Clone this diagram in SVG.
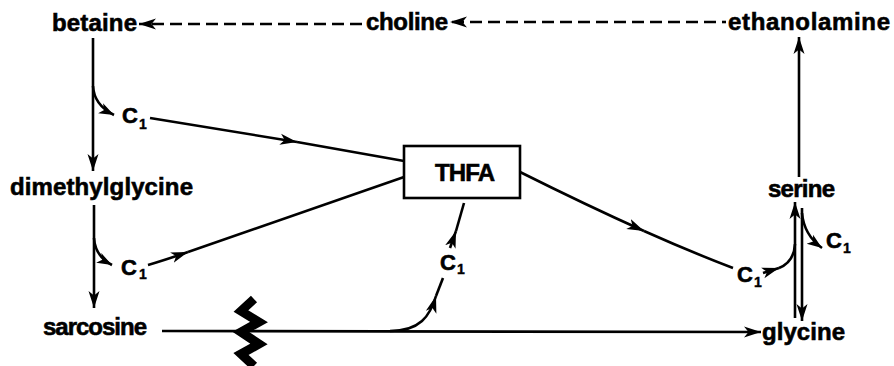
<svg xmlns="http://www.w3.org/2000/svg" width="894" height="366" viewBox="0 0 894 366">
<style>
.lbl{font-family:"Liberation Sans",Arial,sans-serif;font-weight:bold;font-size:24px;fill:#000;stroke:#000;stroke-width:0.6}
.c{font-family:"Liberation Sans",Arial,sans-serif;font-weight:bold;font-size:22px;fill:#000;stroke:#000;stroke-width:0.6}
.s{font-family:"Liberation Sans",Arial,sans-serif;font-weight:bold;font-size:14px;fill:#000;stroke:#000;stroke-width:0.4}
.ln{fill:none;stroke:#000;stroke-width:2.6}
.ar{marker-end:url(#ah)}
.hk{marker-end:url(#hk)}
.dash{stroke-dasharray:12 6}
</style>
<defs>
<marker id="ah" markerUnits="userSpaceOnUse" markerWidth="20" markerHeight="14" viewBox="-17 -7 20 14" refX="0" refY="0" orient="auto">
<path d="M0,0 L-17,-5.5 L-12.5,0 L-17,5.5 Z" fill="#000"/>
</marker>
<marker id="hk" markerUnits="userSpaceOnUse" markerWidth="18" markerHeight="14" viewBox="-15 -7 18 14" refX="0" refY="0" orient="auto">
<path d="M0,0 L-15,-5.5 L-11,0 L-15,5.5 Z" fill="#000"/>
</marker>
</defs>
<rect width="894" height="366" fill="#fff"/>

<g id="connectors">
<path class="ln" d="M726,22 L722,22"/>
<path class="ln dash ar" d="M716,22 L450,22"/>
<path class="ln dash ar" d="M362,24 L139,24"/>
<path class="ln ar" d="M93,38 L93,171"/>
<path class="ln hk" d="M93,86 Q94,105 114,115"/>
<path class="ln ar" d="M150,118 L297,142"/>
<path class="ln" d="M297,142 L404,161"/>
<path class="ln ar" d="M94,205 L94,308"/>
<path class="ln hk" d="M94,238 Q95,256 112,265"/>
<path class="ln ar" d="M148,265 Q165,260 188,252"/>
<path class="ln" d="M188,252 L404,177"/>
<path class="ln ar" d="M520,172 Q586,205 644,231"/>
<path class="ln" d="M644,231 Q691,252 733,268"/>
<path class="ln ar" d="M763,273 L779,268"/>
<path class="ln" d="M779,268 Q794,262 795,244"/>
<path class="ln ar" d="M795,318 L795,202"/>
<path class="ln ar" d="M802,208 L802,321"/>
<path class="ln hk" d="M802,213 Q804,235 822,248"/>
<path class="ln ar" d="M799,177 L799,37"/>
<path class="ln ar" d="M162,331 L761,332"/>
<path class="ln ar" d="M390,331 C420,331 430,316 436,296"/>
<path class="ln" d="M436,296 L443,278"/>
<path class="ln ar" d="M450,248 L456,231"/>
<path class="ln" d="M456,231 L464,203"/>
<polyline points="254,299 241,311 259,322 241,332 259,344 241,354 254,366" fill="none" stroke="#000" stroke-width="9" stroke-linejoin="miter"/>
</g>

<g id="betaine"><text class="lbl" x="52" y="31" textLength="85">betaine</text></g>
<g id="choline"><text class="lbl" x="366" y="30" textLength="82">choline</text></g>
<g id="ethanolamine"><text class="lbl" x="728" y="30" textLength="162">ethanolamine</text></g>
<g id="dimethylglycine"><text class="lbl" x="10" y="195" textLength="183">dimethylglycine</text></g>
<g id="sarcosine"><text class="lbl" x="43" y="335" textLength="104">sarcosine</text></g>
<g id="serine"><text class="lbl" x="768" y="197" textLength="67">serine</text></g>
<g id="glycine"><text class="lbl" x="762" y="340" textLength="83">glycine</text></g>
<g id="THFA">
<rect x="404" y="146" width="116" height="52" fill="#fff" stroke="#000" stroke-width="2.6"/>
<text class="lbl" x="435" y="181" textLength="60">THFA</text>
</g>
<g id="c1-a"><text class="c" x="122" y="123">C</text><text class="s" x="139" y="129">1</text></g>
<g id="c1-b"><text class="c" x="121" y="275">C</text><text class="s" x="139" y="279">1</text></g>
<g id="c1-c"><text class="c" x="440" y="270">C</text><text class="s" x="457" y="274">1</text></g>
<g id="c1-d"><text class="c" x="826" y="248">C</text><text class="s" x="843" y="253">1</text></g>
<g id="c1-e"><text class="c" x="737" y="282">C</text><text class="s" x="754" y="287">1</text></g>
</svg>
